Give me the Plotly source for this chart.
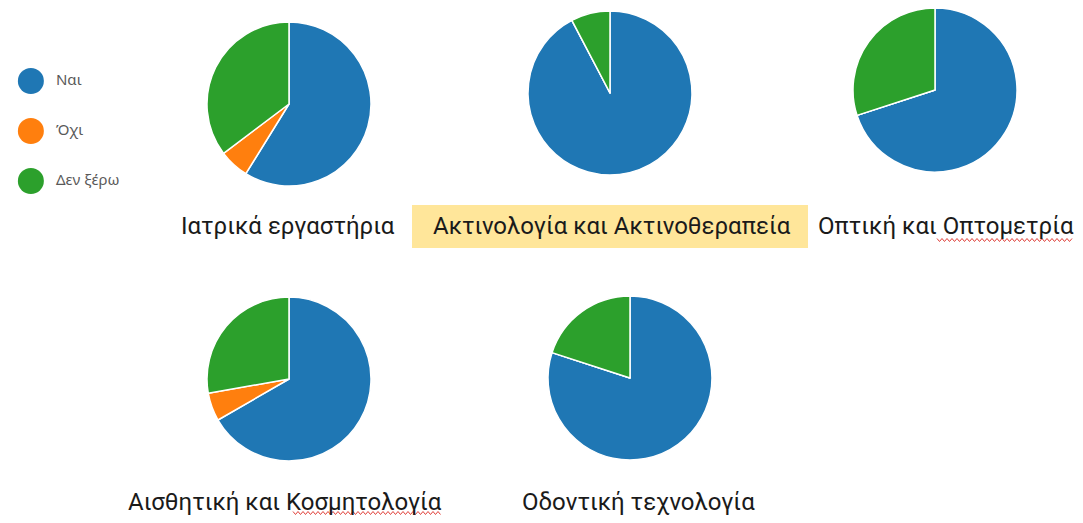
import plotly.graph_objects as go

WIN_W, WIN_H = 1083, 523
M = 8  # default page body margin
W, H = WIN_W - 2 * M, WIN_H - 2 * M

answers = ["Ναι", "Όχι", "Δεν ξέρω"]
colors = ["#1f77b4", "#ff7f0e", "#2ca02c"]

programs = ["Ιατρικά εργαστήρια", "Ακτινολογία και Ακτινοθεραπεία", "Οπτική και Οπτομετρία",
            "Αισθητική και Κοσμητολογία", "Οδοντική τεχνολογία"]
yes_counts = [10, 12, 7, 12, 4]
no_counts = [1, 0, 0, 1, 0]
dont_know_counts = [6, 1, 3, 5, 1]


def px(x):
    return (x - M) / W


def py(y):
    return 1 - (y - M) / H


# layout (window pixels): pie centers, radius, title positions
pie_centers = [(289, 104), (610, 93), (935, 90), (289, 379), (630, 378)]
radius = 82
title_pos = [(288, 226), (612, 226), (946, 226), (285, 502), (638, 502)]

fig = go.Figure()

for i, name in enumerate(programs):
    cx, cy = pie_centers[i]
    fig.add_trace(go.Pie(
        labels=answers,
        values=[yes_counts[i], no_counts[i], dont_know_counts[i]],
        marker=dict(colors=colors, line=dict(color="white", width=1.5)),
        sort=False, direction="clockwise", rotation=0,
        textinfo="none", hoverinfo="label+value+percent",
        showlegend=False, name=name,
        domain=dict(x=[px(cx - radius), px(cx + radius)],
                    y=[py(cy + radius), py(cy - radius)]),
    ))
    fig.add_annotation(x=px(title_pos[i][0]), y=py(title_pos[i][1]), xref="paper", yref="paper",
                       text=name, showarrow=False, xanchor="center", yanchor="middle",
                       font=dict(size=24, color="#1a1a1a", family="Roboto"))

# highlight behind the second title
fig.add_shape(type="rect", xref="paper", yref="paper", layer="below",
              x0=px(412), x1=px(808), y0=py(248), y1=py(205),
              fillcolor="#FFE69A", line=dict(width=0))


# spell-check style wavy underlines
def wavy(x0, x1, y):
    pts = []
    x = x0
    k = 0
    while x <= x1:
        yy = y + (1.5 if k % 2 else -1.5)
        pts.append(f"{px(x):.5f},{py(yy):.5f}")
        x += 2.5
        k += 1
    return "M " + " L ".join(pts)


for (x0, x1, y) in [(937, 1072, 240), (293, 441, 513)]:
    fig.add_shape(type="path", xref="paper", yref="paper", path=wavy(x0, x1, y),
                  line=dict(color="#e0403a", width=1))

# legend drawn as a marker trace on a hidden axis
fig.add_trace(go.Scatter(
    x=[0, 0, 0], y=[0, 1, 2], mode="markers+text",
    marker=dict(size=26, color=colors),
    text=["  " + a for a in answers], textposition="middle right",
    textfont=dict(size=15, color="#595959", family="Noto Sans"),
    showlegend=False, hoverinfo="skip", cliponaxis=False,
    xaxis="x", yaxis="y",
))

fig.update_layout(
    xaxis=dict(domain=[px(8), px(168)], range=[-0.5, 3.0], visible=False, fixedrange=True),
    yaxis=dict(domain=[py(201), py(61)], range=[2.4, -0.4], visible=False, fixedrange=True),
    width=W, height=H,
    margin=dict(l=0, r=0, t=0, b=0),
    paper_bgcolor="white", plot_bgcolor="rgba(0,0,0,0)",
)

fig.write_html("out.html")
